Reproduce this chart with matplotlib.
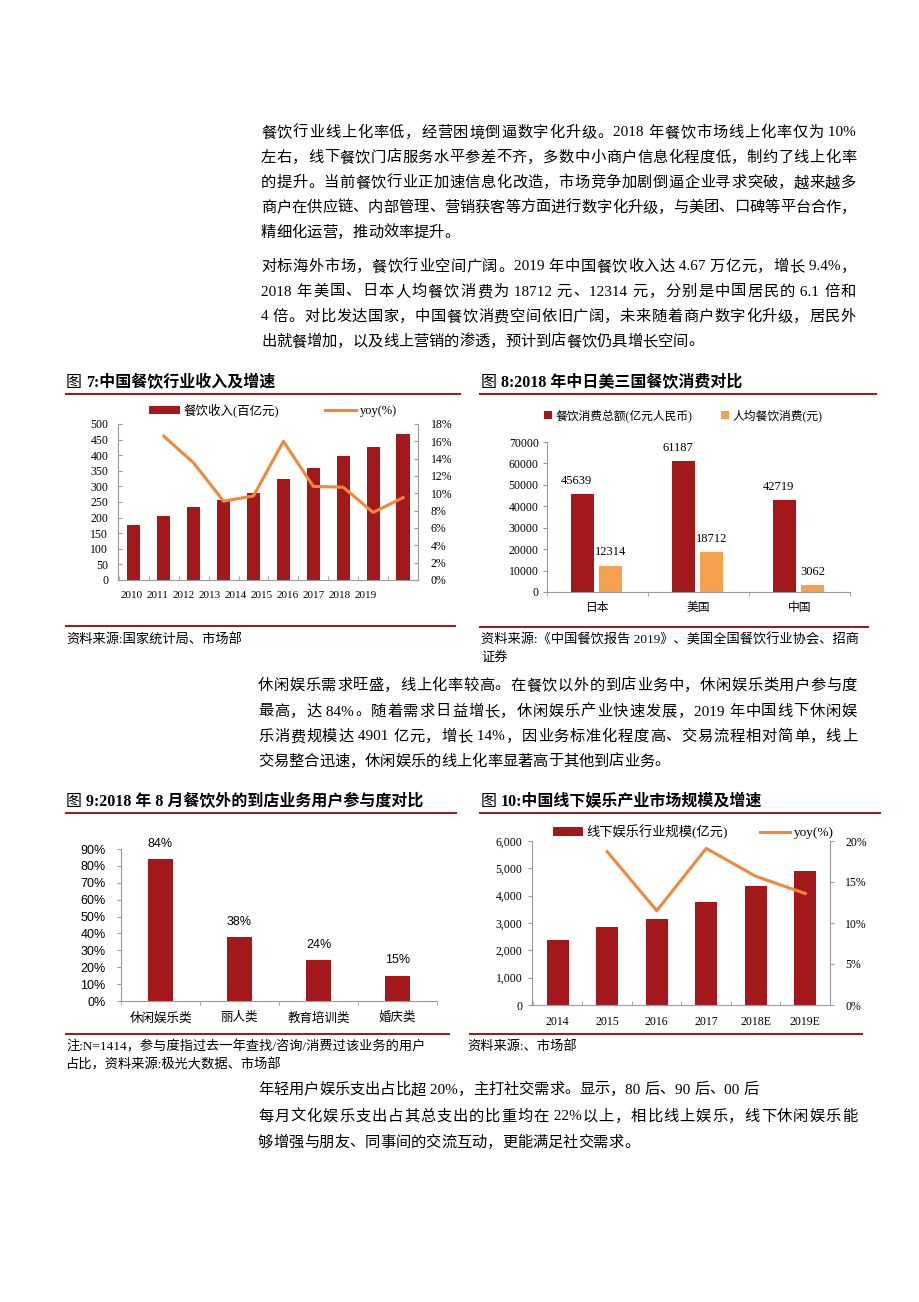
import re
import matplotlib
matplotlib.use('Agg')
import matplotlib.pyplot as plt
import numpy as np
from matplotlib.lines import Line2D
from matplotlib.transforms import ScaledTranslation
from matplotlib.ticker import FuncFormatter

plt.rcParams['font.family'] = ['Liberation Serif', 'Noto Sans CJK SC']
plt.rcParams['axes.unicode_minus'] = False

# ---- data ----
years7 = ['2010', '2011', '2012', '2013', '2014', '2015', '2016', '2017', '2018', '2019']
income7 = [176, 205, 234, 256, 279, 323, 358, 396, 427, 467]      # 百亿元
yoy7 = [16.6, 13.5, 9.1, 9.7, 16.0, 10.8, 10.7, 7.8, 9.5]          # from 2011

countries8 = ['日本', '美国', '中国']
total8 = [45639, 61187, 42719]     # 亿元人民币
percap8 = [12314, 18712, 3062]     # 元

cats9 = ['休闲娱乐类', '丽人类', '教育培训类', '婚庆类']
share9 = [84, 38, 24, 15]

years10 = ['2014', '2015', '2016', '2017', '2018E', '2019E']
scale10 = [2390, 2840, 3160, 3760, 4360, 4901]   # 亿元
yoy10 = [18.7, 11.5, 19.1, 15.7, 13.6]           # from 2015

para1 = ['餐饮行业线上化率低，经营困境倒逼数字化升级。2018 年餐饮市场线上化率仅为 10%',
         '左右，线下餐饮门店服务水平参差不齐，多数中小商户信息化程度低，制约了线上化率',
         '的提升。当前餐饮行业正加速信息化改造，市场竞争加剧倒逼企业寻求突破，越来越多',
         '商户在供应链、内部管理、营销获客等方面进行数字化升级，与美团、口碑等平台合作，',
         '精细化运营，推动效率提升。']
para2 = ['对标海外市场，餐饮行业空间广阔。2019 年中国餐饮收入达 4.67 万亿元，增长 9.4%，',
         '2018 年美国、日本人均餐饮消费为 18712 元、12314 元，分别是中国居民的 6.1 倍和',
         '4 倍。对比发达国家，中国餐饮消费空间依旧广阔，未来随着商户数字化升级，居民外',
         '出就餐增加，以及线上营销的渗透，预计到店餐饮仍具增长空间。']
para3 = ['休闲娱乐需求旺盛，线上化率较高。在餐饮以外的到店业务中，休闲娱乐类用户参与度',
         '最高，达 84%。随着需求日益增长，休闲娱乐产业快速发展，2019 年中国线下休闲娱',
         '乐消费规模达 4901 亿元，增长 14%，因业务标准化程度高、交易流程相对简单，线上',
         '交易整合迅速，休闲娱乐的线上化率显著高于其他到店业务。']
para4 = ['年轻用户娱乐支出占比超 20%，主打社交需求。显示，80 后、90 后、00 后',
         '每月文化娱乐支出占其总支出的比重均在 22%以上，相比线上娱乐，线下休闲娱乐能',
         '够增强与朋友、同事间的交流互动，更能满足社交需求。']

RED = '#A3191B'
ORANGE = '#F0883A'
LORANGE = '#F7A04E'
RULE = '#8E2424'
GRAY = '#9A9A9A'

W, H = 920, 1302
fig = plt.figure(figsize=(W / 100, H / 100), dpi=100)
renderer = fig.canvas.get_renderer()


def axes_px(l, t, r, b):
    return fig.add_axes([l / W, 1 - b / H, (r - l) / W, (b - t) / H])


def text_px(x, y, s, **kw):
    kw.setdefault('va', 'center')
    return fig.text(x / W, 1 - y / H, s, **kw)


def rule_px(x0, x1, y, lw=1.5):
    fig.add_artist(Line2D([x0 / W, x1 / W], [1 - y / H] * 2, color=RULE, lw=lw))


def line_px(x0, x1, y, s, size=11, justify=True):
    # lay out one line token by token, spreading extra space when justified
    toks = re.findall(r' ?[0-9A-Za-z.%]+ ?|.', s)
    arts = [text_px(x0, y, t, fontsize=size) for t in toks]
    ws = [a.get_window_extent(renderer).width for a in arts]
    extra = (x1 - x0 - sum(ws)) / (len(toks) - 1) if justify else 0.0
    x = x0
    for a, w in zip(arts, ws):
        a.set_x(x / W)
        x += w + extra


def paragraph(x0, x1, ys, lines, just):
    for y, s, j in zip(ys, lines, just):
        line_px(x0, x1, y, s, justify=j)


def title_px(x, y, num, rest):
    # "图" in regular weight, the rest bold
    a = text_px(x, y, '图', fontsize=11.5)
    w = a.get_window_extent(renderer).width
    text_px(x + w + 4, y, num + ':' + rest, fontsize=11.5, fontweight='bold')


def style_spines(ax, sides):
    for k, sp in ax.spines.items():
        sp.set_visible(k in sides)
        sp.set_color(GRAY)
        sp.set_linewidth(0.8)


# ---- body text ----
paragraph(261, 856, [133, 158, 183, 208, 233], para1, [True, True, True, True, False])
paragraph(261, 856, [267, 292, 317, 342], para2, [True, True, True, False])
paragraph(258, 857, [686, 712, 737, 762], para3, [True, True, True, False])
paragraph(258, 857, [1090, 1117, 1143], para4, [False, True, False])

# ---- 图 7 ----
title_px(66, 383, '7', '中国餐饮行业收入及增速')
rule_px(66, 460, 394)
ax = axes_px(118, 424, 418, 580)
x7 = np.arange(len(years7))
b7 = ax.bar(x7, income7, width=0.44, color=RED)
ax.set_xlim(-0.53, 9.47)
ax.set_ylim(0, 500)
ax.set_yticks(np.arange(0, 501, 50))
ax.set_xticks(-0.08 + 0.87 * x7)
ax.set_xticklabels(years7, fontsize=8)
ax.set_xticks(np.arange(-0.5, 9.6, 1), minor=True)
ax.tick_params(axis='x', which='major', length=0, pad=8)
ax.tick_params(axis='x', which='minor', length=3, direction='in', color=GRAY)
ax.tick_params(axis='y', labelsize=8.5, length=3, direction='in', color=GRAY, pad=7)
style_spines(ax, ['left', 'bottom'])
ax2 = ax.twinx()
l7, = ax2.plot(x7[1:], yoy7, color=ORANGE, lw=2.2)
ax2.set_ylim(0, 18)
ax2.set_yticks(np.arange(0, 19, 2))
ax2.yaxis.set_major_formatter(FuncFormatter(lambda v, p: f'{v:.0f}%'))
ax2.tick_params(axis='y', labelsize=8.5, length=3, direction='in', color=GRAY, pad=9)
style_spines(ax2, ['right'])
ax2.legend([b7, l7], ['餐饮收入(百亿元)', 'yoy(%)'], ncol=2, frameon=False, fontsize=9,
           loc='center left', bbox_to_anchor=(149 / W, 1 - 410 / H), bbox_transform=fig.transFigure,
           handlelength=2.5, handleheight=0.6, handletextpad=0.3, columnspacing=3.6,
           borderpad=0, borderaxespad=0)
rule_px(66, 455, 626)
text_px(66, 639, '资料来源:国家统计局、市场部', fontsize=9.5)

# ---- 图 8 ----
title_px(481, 383, '8', '2018 年中日美三国餐饮消费对比')
rule_px(480, 876, 394)
ax = axes_px(547, 442, 850, 592)
x8 = np.arange(len(countries8))
ax.bar(x8 - 0.15, total8, width=0.23, color=RED, label='餐饮消费总额(亿元人民币)')
ax.bar(x8 + 0.13, percap8, width=0.23, color=LORANGE, label='人均餐饮消费(元)')
for xi, v in zip(x8 - 0.15, total8):
    ax.annotate(f'{v}', (xi, v), xytext=(-4, 9.5), textcoords='offset points',
                ha='center', va='center', fontsize=9)
for xi, v in zip(x8 + 0.13, percap8):
    ax.annotate(f'{v}', (xi, v), xytext=(0, 9.5), textcoords='offset points',
                ha='center', va='center', fontsize=9)
ax.set_xlim(-0.5, 2.5)
ax.set_ylim(0, 70000)
ax.set_yticks(np.arange(0, 70001, 10000))
ax.set_xticks(x8)
ax.set_xticklabels(countries8, fontsize=8.5)
ax.set_xticks([-0.5, 0.5, 1.5, 2.5], minor=True)
ax.tick_params(axis='x', which='major', length=0, pad=7)
ax.tick_params(axis='x', which='minor', length=3, color=GRAY)
ax.tick_params(axis='y', labelsize=8.5, length=3, color=GRAY, pad=3)
style_spines(ax, ['left', 'bottom'])
ax.legend(ncol=2, frameon=False, fontsize=8.5,
          loc='center left', bbox_to_anchor=(544 / W, 1 - 416 / H), bbox_transform=fig.transFigure,
          handlelength=0.7, handleheight=0.7, handletextpad=0.3, columnspacing=2.4,
          borderpad=0, borderaxespad=0)
rule_px(480, 868, 627)
text_px(481, 640, '资料来源:《中国餐饮报告 2019》、美国全国餐饮行业协会、招商', fontsize=9.5)
text_px(481, 658, '证券', fontsize=9.5)

# ---- 图 9 ----
title_px(66, 802, '9', '2018 年 8 月餐饮外的到店业务用户参与度对比')
rule_px(66, 456, 813)
ax = axes_px(121, 849, 437, 1001)
x9 = np.arange(len(cats9))
ax.bar(x9, share9, width=0.32, color=RED)
for xi, v in zip(x9, share9):
    ax.annotate(f'{v}%', (xi, v), xytext=(0, 11), textcoords='offset points',
                ha='center', va='center', fontsize=9, family='Liberation Sans')
ax.set_xlim(-0.5, 3.5)
ax.set_ylim(0, 90)
ax.set_yticks(np.arange(0, 91, 10))
ax.set_yticklabels([f'{v}%' for v in range(0, 91, 10)], fontsize=9, family='Liberation Sans')
shift = ScaledTranslation(0, -0.13, fig.dpi_scale_trans)
for lab in ax.get_yticklabels():
    lab.set_transform(lab.get_transform() + shift)
ax.set_xticks(x9)
ax.set_xticklabels(cats9, fontsize=9)
ax.set_xticks([-0.5, 0.5, 1.5, 2.5, 3.5], minor=True)
ax.tick_params(axis='x', which='major', length=0, pad=8)
ax.tick_params(axis='x', which='minor', length=3, color=GRAY)
ax.tick_params(axis='y', length=3, color=GRAY, pad=8)
style_spines(ax, ['left', 'bottom'])
rule_px(66, 449, 1034)
text_px(66, 1047, '注:N=1414，参与度指过去一年查找/咨询/消费过该业务的用户', fontsize=9.5)
text_px(66, 1065, '占比，资料来源:极光大数据、市场部', fontsize=9.5)

# ---- 图 10 ----
title_px(481, 802, '10', '中国线下娱乐产业市场规模及增速')
rule_px(480, 880, 813)
ax = axes_px(532, 841, 830, 1005)
x10 = np.arange(len(years10))
b10 = ax.bar(x10, scale10, width=0.44, color=RED)
ax.set_xlim(-0.52, 5.44)
ax.set_ylim(0, 6000)
ax.set_yticks(np.arange(0, 6001, 1000))
ax.yaxis.set_major_formatter(FuncFormatter(lambda v, p: f'{v:,.0f}'))
ax.set_xticks(x10)
ax.set_xticklabels(years10, fontsize=8.5)
ax.set_xticks(np.arange(-0.5, 5.6, 1), minor=True)
ax.tick_params(axis='x', which='major', length=0, pad=8)
ax.tick_params(axis='x', which='minor', length=3, direction='in', color=GRAY)
ax.tick_params(axis='y', labelsize=8.5, length=3, color=GRAY, pad=4)
style_spines(ax, ['left', 'bottom'])
ax2 = ax.twinx()
l10, = ax2.plot(x10[1:], yoy10, color=ORANGE, lw=2.2)
ax2.set_ylim(0, 20)
ax2.set_yticks(np.arange(0, 21, 5))
ax2.yaxis.set_major_formatter(FuncFormatter(lambda v, p: f'{v:.0f}%'))
ax2.tick_params(axis='y', labelsize=8.5, length=3, color=GRAY, pad=8)
style_spines(ax2, ['right'])
ax2.legend([b10, l10], ['线下娱乐行业规模(亿元)', 'yoy(%)'], ncol=2, frameon=False, fontsize=9.5,
           loc='center left', bbox_to_anchor=(553 / W, 1 - 832 / H), bbox_transform=fig.transFigure,
           handlelength=2.3, handleheight=0.6, handletextpad=0.25, columnspacing=2.4,
           borderpad=0, borderaxespad=0)
rule_px(470, 862, 1034)
text_px(467, 1047, '资料来源:、市场部', fontsize=9.5)

fig.savefig('out.png', dpi=100)
